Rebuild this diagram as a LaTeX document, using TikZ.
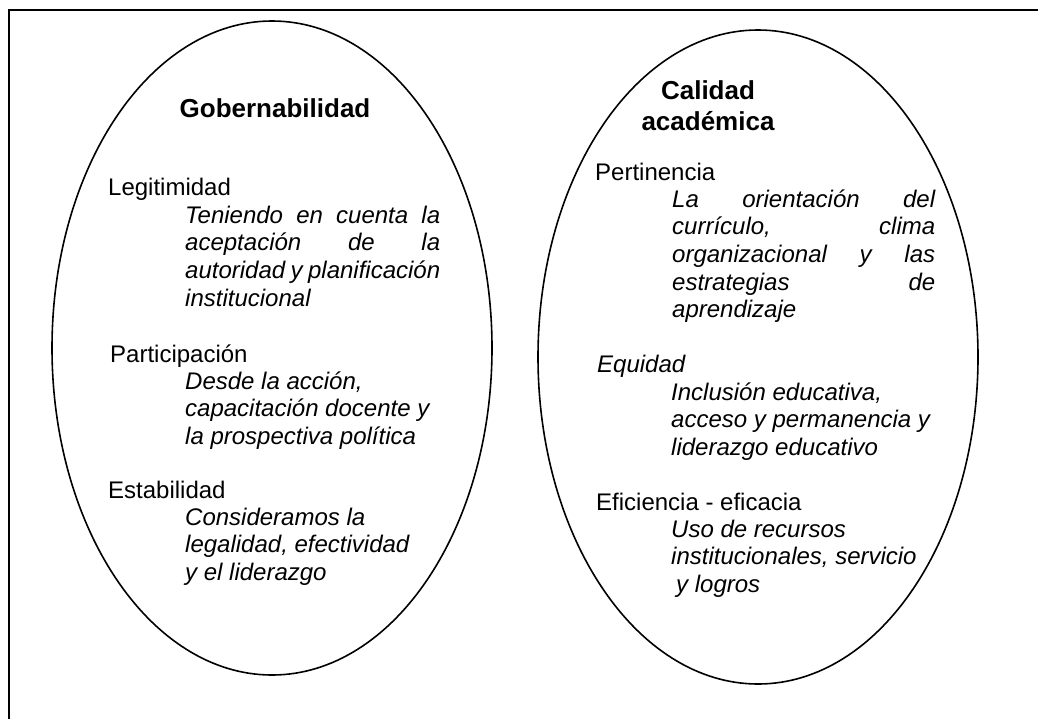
\documentclass[tikz,border=0pt]{standalone}
\usepackage{fontspec}
\setmainfont{Liberation Sans}
\usetikzlibrary{shapes.geometric}
\newcommand{\jl}[1]{\makebox[255pt][s]{#1}}
\newcommand{\jr}[1]{\makebox[263pt][s]{#1}}
\begin{document}
\begin{tikzpicture}[x=1pt,y=-1pt,
  frameline/.style={line width=2pt},
  oval/.style={draw, ellipse, line width=1.6pt, inner sep=0pt, minimum width=440pt, minimum height=654pt},
  title/.style={font=\fontsize{26}{31}\selectfont\bfseries, anchor=base, inner sep=0pt},
  lbl/.style={font=\fontsize{24}{27.6}\selectfont, anchor=base west, inner sep=0pt},
  body/.style={font=\fontsize{24}{27.6}\selectfont\itshape, anchor=north west, align=left, inner sep=0pt}]
\useasboundingbox (0,0) rectangle (1038,718);
\draw[frameline] (8.5,720) -- (8.5,10) -- (1040,10);
\node[oval] (gob) at (272,348) {};
\node[oval] (cal) at (758,357) {};
% titles
\node[title] (t1) at (275,117) {Gobernabilidad};
\node[title] (t2a) at (708,99) {Calidad};
\node[title] (t2b) at (708,130) {académica};
% left
\node[lbl] (legi) at (108,195) {Legitimidad};
\node[body] (legit) at (185,203.7) {\strut\jl{Teniendo en cuenta la}\\ \jl{aceptación de la}\\ \jl{autoridad y planificación}\\ institucional};
\node[lbl] (part) at (110,362) {Participación};
\node[body] (partt) at (185,369.7) {\strut Desde la acción,\\ capacitación docente y\\ la prospectiva política};
\node[lbl] (esta) at (108,498) {Estabilidad};
\node[body] (estat) at (185,505.7) {\strut Consideramos la\\ legalidad, efectividad\\ y el liderazgo};
% right
\node[lbl] (pert) at (595,180) {Pertinencia};
\node[body] (pertt) at (672,187.7) {\strut\jr{La orientación del}\\ \jr{currículo, clima}\\ \jr{organizacional y las}\\ \jr{estrategias de}\\ aprendizaje};
\node[lbl, font=\fontsize{24}{27.6}\selectfont\itshape] (equi) at (597,372) {Equidad};
\node[body] (equit) at (671,380.7) {\strut Inclusión educativa,\\ acceso y permanencia y\\ liderazgo educativo};
\node[lbl] (efic) at (596,510) {Eficiencia - eficacia};
\node[body] (efict) at (671,517.7) {\strut Uso de recursos\\ institucionales, servicio\\ \hspace*{5pt}y logros};
\end{tikzpicture}
\end{document}
